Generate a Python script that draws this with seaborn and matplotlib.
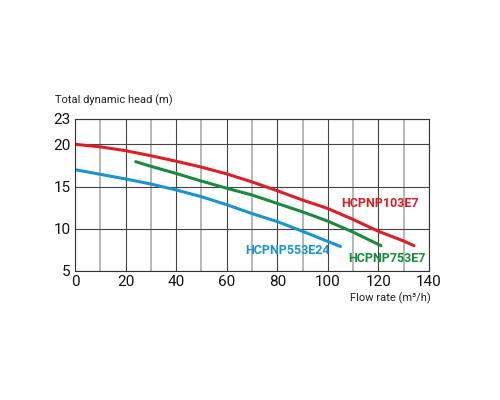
import numpy as np
import pandas as pd
import matplotlib.pyplot as plt
from matplotlib.ticker import MultipleLocator
import seaborn as sns

red_x = [0, 10, 20, 30, 40, 50, 60, 70, 80, 90, 100, 110, 120, 130, 134]
red_y = [20, 19.7, 19.25, 18.65, 18.0, 17.3, 16.5, 15.55, 14.5, 13.4, 12.4, 11.1, 9.7, 8.55, 8.0]
green_x = [24, 30, 40, 50, 60, 70, 80, 90, 100, 110, 121]
green_y = [17.95, 17.4, 16.55, 15.65, 14.8, 14.0, 13.0, 12.0, 10.9, 9.6, 8.0]
blue_x = [0, 10, 20, 30, 40, 50, 60, 70, 80, 90, 100, 105]
blue_y = [17.0, 16.45, 15.9, 15.3, 14.6, 13.8, 12.85, 11.8, 10.85, 9.7, 8.5, 7.9]

names = ["HCPNP103E7", "HCPNP753E7", "HCPNP553E24"]
colors = {"HCPNP103E7": "#dc1f26", "HCPNP753E7": "#1a8a3c", "HCPNP553E24": "#1b93d0"}

df = pd.concat([
    pd.DataFrame({"flow": red_x, "head": red_y, "model": names[0]}),
    pd.DataFrame({"flow": green_x, "head": green_y, "model": names[1]}),
    pd.DataFrame({"flow": blue_x, "head": blue_y, "model": names[2]}),
])

sns.set_style("white")
plt.rcParams["font.family"] = ["Roboto", "DejaVu Sans"]

fig = plt.figure(figsize=(5, 4), dpi=100)
ax = fig.add_axes([0.15, 0.3225, 0.708, 0.38])

sns.lineplot(data=df, x="flow", y="head", hue="model", palette=colors,
             sort=False, linewidth=2.2, legend=False, ax=ax)

ax.set_xlim(0, 140)
ax.set_ylim(5, 23)
ax.set_xticks(np.arange(0, 141, 20))
ax.xaxis.set_minor_locator(MultipleLocator(10))
ax.set_yticks([5, 10, 15, 20, 23])
ax.grid(True, which="major", axis="both", color="#444444", linewidth=0.8)
ax.grid(True, which="minor", axis="x", color="#aaaaaa", linewidth=1.2)
ax.tick_params(axis="both", which="both", length=0, labelsize=11, pad=3, colors="#111111")
for s in ax.spines.values():
    s.set_color("#333333")
    s.set_linewidth(0.8)
ax.set_xlabel("")
ax.set_ylabel("")

ax.text(120.5, 13.0, "HCPNP103E7", color=colors["HCPNP103E7"], fontsize=9,
        fontweight="bold", ha="center", va="center")
ax.text(84, 7.4, "HCPNP553E24", color=colors["HCPNP553E24"], fontsize=9,
        fontweight="bold", ha="center", va="center")
ax.text(123.5, 6.45, "HCPNP753E7", color=colors["HCPNP753E7"], fontsize=9,
        fontweight="bold", ha="center", va="center")

fig.text(0.11, 0.75, "Total dynamic head (m)", fontsize=8, color="#222222",
         ha="left", va="center")
fig.text(0.862, 0.255, "Flow rate (m\u00b3/h)", fontsize=8, color="#222222",
         ha="right", va="center")

fig.savefig("out.png", dpi=100)
